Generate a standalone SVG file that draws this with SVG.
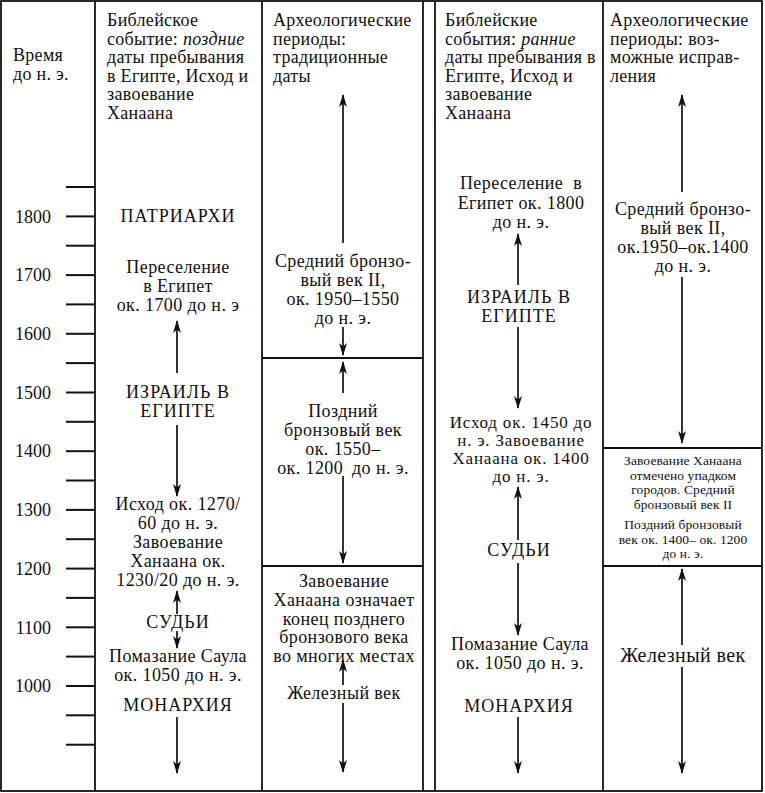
<svg xmlns="http://www.w3.org/2000/svg" width="765" height="793" viewBox="0 0 765 793">
<style>
text{font-family:"Liberation Serif","Times New Roman",serif;fill:#111;}
.h{font-size:18px;letter-spacing:0.3px;}
.b{font-size:18px;letter-spacing:0.4px;text-anchor:middle;}
.n{font-size:17px;letter-spacing:0.8px;text-anchor:middle;}
.c{font-size:18px;letter-spacing:1px;text-anchor:middle;}
.s{font-size:13.5px;letter-spacing:0.1px;text-anchor:middle;}
.y{font-size:18px;text-anchor:end;}
.ln{stroke:#111;stroke-width:1.8;fill:none;}
.tk{stroke:#111;stroke-width:2;}
.ar{stroke:#111;stroke-width:1.7;fill:none;marker-end:url(#ah);}
</style>
<defs>
<marker id="ah" viewBox="0 0 13 8" refX="12" refY="4" markerWidth="13" markerHeight="8" markerUnits="userSpaceOnUse" orient="auto">
<path d="M0,0 L13,4 L0,8 L3.5,4 z" fill="#111"/>
</marker>
</defs>
<rect width="765" height="793" fill="#fff"/>
<g id="frame">
<rect class="ln" x="1" y="1" width="761" height="790" stroke-width="2"/>
<line class="ln" x1="95" y1="1" x2="95" y2="791"/>
<line class="ln" x1="262" y1="1" x2="262" y2="791"/>
<line class="ln" x1="423" y1="1" x2="423" y2="791"/>
<line class="ln" x1="435" y1="1" x2="435" y2="791"/>
<line class="ln" x1="603" y1="1" x2="603" y2="791"/>
<line class="ln" x1="262" y1="358" x2="423" y2="358"/>
<line class="ln" x1="262" y1="566" x2="423" y2="566"/>
<line class="ln" x1="603" y1="448" x2="762" y2="448"/>
<line class="ln" x1="603" y1="566" x2="762" y2="566"/>
</g>
<g id="axis">
<text class="h" x="13" y="61">Время</text>
<text class="h" x="13" y="80">до н. э.</text>
<g class="tk">
<line x1="66" y1="187" x2="95" y2="187"/><line x1="66" y1="216.4" x2="95" y2="216.4"/>
<line x1="66" y1="245.7" x2="95" y2="245.7"/><line x1="66" y1="275.1" x2="95" y2="275.1"/>
<line x1="66" y1="304.4" x2="95" y2="304.4"/><line x1="66" y1="333.8" x2="95" y2="333.8"/>
<line x1="66" y1="363.1" x2="95" y2="363.1"/><line x1="66" y1="392.5" x2="95" y2="392.5"/>
<line x1="66" y1="421.8" x2="95" y2="421.8"/><line x1="66" y1="451.2" x2="95" y2="451.2"/>
<line x1="66" y1="480.5" x2="95" y2="480.5"/><line x1="66" y1="509.9" x2="95" y2="509.9"/>
<line x1="66" y1="539.2" x2="95" y2="539.2"/><line x1="66" y1="568.6" x2="95" y2="568.6"/>
<line x1="66" y1="597.9" x2="95" y2="597.9"/><line x1="66" y1="627.3" x2="95" y2="627.3"/>
<line x1="66" y1="656.6" x2="95" y2="656.6"/><line x1="66" y1="686" x2="95" y2="686"/>
<line x1="66" y1="715.3" x2="95" y2="715.3"/><line x1="66" y1="744.7" x2="95" y2="744.7"/>
</g>
<text class="y" x="51" y="222.5">1800</text>
<text class="y" x="51" y="281">1700</text>
<text class="y" x="51" y="340">1600</text>
<text class="y" x="51" y="398.5">1500</text>
<text class="y" x="51" y="457">1400</text>
<text class="y" x="51" y="516">1300</text>
<text class="y" x="51" y="574.5">1200</text>
<text class="y" x="51" y="633.5">1100</text>
<text class="y" x="51" y="692">1000</text>
</g>
<g id="head1">
<text class="h" x="107" y="26">Библейское</text>
<text class="h" x="107" y="44.6">событие: <tspan font-style="italic">поздние</tspan></text>
<text class="h" x="107" y="63.2">даты пребывания</text>
<text class="h" x="107" y="81.8">в Египте, Исход и</text>
<text class="h" x="107" y="100.4">завоевание</text>
<text class="h" x="107" y="119">Ханаана</text>
</g>
<g id="head2">
<text class="h" x="273" y="26">Археологические</text>
<text class="h" x="273" y="44.6">периоды:</text>
<text class="h" x="273" y="63.2">традиционные</text>
<text class="h" x="273" y="81.8">даты</text>
</g>
<g id="head4">
<text class="h" x="445" y="26">Библейские</text>
<text class="h" x="445" y="44.6">события: <tspan font-style="italic">ранние</tspan></text>
<text class="h" x="445" y="63.2">даты пребывания в</text>
<text class="h" x="445" y="81.8">Египте, Исход и</text>
<text class="h" x="445" y="100.4">завоевание</text>
<text class="h" x="445" y="119">Ханаана</text>
</g>
<g id="head5">
<text class="h" x="610" y="26">Археологические</text>
<text class="h" x="610" y="44.6">периоды: воз-</text>
<text class="h" x="610" y="63.2">можные исправ-</text>
<text class="h" x="610" y="81.8">ления</text>
</g>
<g id="c1-patriarchs"><text class="c" x="178" y="222">ПАТРИАРХИ</text></g>
<g id="c1-migration">
<text class="b" x="178" y="273">Переселение</text>
<text class="b" x="178" y="292">в Египет</text>
<text class="b" x="178" y="311">ок. 1700 до н. э</text>
</g>
<g id="c1-israel">
<text class="c" x="178" y="398">ИЗРАИЛЬ В</text>
<text class="c" x="178" y="417">ЕГИПТЕ</text>
</g>
<g id="c1-exodus">
<text class="b" x="178" y="510">Исход ок. 1270/</text>
<text class="b" x="178" y="529">60 до н. э.</text>
<text class="b" x="178" y="548">Завоевание</text>
<text class="b" x="178" y="567">Ханаана ок.</text>
<text class="b" x="178" y="586">1230/20 до н. э.</text>
</g>
<g id="c1-judges"><text class="c" x="178" y="628">СУДЬИ</text></g>
<g id="c1-saul">
<text class="b" x="178" y="662">Помазание Саула</text>
<text class="b" x="178" y="681">ок. 1050 до н. э.</text>
</g>
<g id="c1-monarchy"><text class="c" x="178" y="711">МОНАРХИЯ</text></g>
<g id="c2-mb">
<text class="b" x="343" y="267">Средний бронзо-</text>
<text class="b" x="343" y="286">вый век II,</text>
<text class="b" x="343" y="305">ок. 1950–1550</text>
<text class="b" x="343" y="324">до н. э.</text>
</g>
<g id="c2-lb">
<text class="b" x="343" y="417">Поздний</text>
<text class="b" x="343" y="436">бронзовый век</text>
<text class="b" x="343" y="455">ок. 1550–</text>
<text class="b" x="343" y="474">ок. 1200 <tspan dx="4">до н. э.</tspan></text>
</g>
<g id="c2-conquest">
<text class="b" x="344" y="587">Завоевание</text>
<text class="b" x="344" y="606">Ханаана означает</text>
<text class="b" x="344" y="624.5">конец позднего</text>
<text class="b" x="344" y="643">бронзового века</text>
<text class="b" x="344" y="661.5">во многих местах</text>
</g>
<g id="c2-iron"><text class="b" x="344" y="699">Железный век</text></g>
<g id="c4-migration">
<text class="b" x="521" y="189">Переселение <tspan dx="5">в</tspan></text>
<text class="b" x="521" y="209">Египет ок. 1800</text>
<text class="b" x="521" y="228">до н. э.</text>
</g>
<g id="c4-israel">
<text class="c" x="519" y="303">ИЗРАИЛЬ В</text>
<text class="c" x="519" y="322">ЕГИПТЕ</text>
</g>
<g id="c4-exodus">
<text class="n" x="521" y="428">Исход ок. 1450 до</text>
<text class="n" x="521" y="446">н. э. Завоевание</text>
<text class="n" x="521" y="464">Ханаана ок. 1400</text>
<text class="n" x="521" y="482">до н. э.</text>
</g>
<g id="c4-judges"><text class="c" x="519" y="556">СУДЬИ</text></g>
<g id="c4-saul">
<text class="b" x="520" y="650">Помазание Саула</text>
<text class="b" x="520" y="669">ок. 1050 до н. э.</text>
</g>
<g id="c4-monarchy"><text class="c" x="519" y="712">МОНАРХИЯ</text></g>
<g id="c5-mb">
<text class="b" x="683" y="215">Средний бронзо-</text>
<text class="b" x="683" y="234">вый век II,</text>
<text class="b" x="683" y="253">ок.1950–ок.1400</text>
<text class="b" x="683" y="272">до н. э.</text>
</g>
<g id="c5-conquest">
<text class="s" x="683" y="465">Завоевание Ханаана</text>
<text class="s" x="683" y="479.5">отмечено упадком</text>
<text class="s" x="683" y="494">городов. Средний</text>
<text class="s" x="683" y="508.5">бронзовый век II</text>
<text class="s" x="683" y="529">Поздний бронзовый</text>
<text class="s" x="683" y="543.5">век ок. 1400– ок. 1200</text>
<text class="s" x="683" y="558">до н. э.</text>
</g>
<g id="c5-iron"><text class="b" x="683" y="662" style="font-size:20px">Железный век</text></g>
<g id="connectors">
<line class="ar" x1="177" y1="373" x2="177" y2="321"/>
<line class="ar" x1="177" y1="425" x2="177" y2="496"/>
<line class="ar" x1="177" y1="614" x2="177" y2="591"/>
<line class="ar" x1="177" y1="631" x2="177" y2="648"/>
<line class="ar" x1="177" y1="717" x2="177" y2="773"/>
<line class="ar" x1="343" y1="243" x2="343" y2="95"/>
<line class="ar" x1="343" y1="327" x2="343" y2="355"/>
<line class="ar" x1="343" y1="393" x2="343" y2="362"/>
<line class="ar" x1="343" y1="476" x2="343" y2="563"/>
<line class="ar" x1="343" y1="685" x2="343" y2="660"/>
<line class="ar" x1="343" y1="703" x2="343" y2="772"/>
<line class="ar" x1="518" y1="285" x2="518" y2="234"/>
<line class="ar" x1="518" y1="327" x2="518" y2="408"/>
<line class="ar" x1="518" y1="540" x2="518" y2="487"/>
<line class="ar" x1="518" y1="563" x2="518" y2="635"/>
<line class="ar" x1="518" y1="717" x2="518" y2="773"/>
<line class="ar" x1="682" y1="192" x2="682" y2="95"/>
<line class="ar" x1="682" y1="277" x2="682" y2="443"/>
<line class="ar" x1="682" y1="645" x2="682" y2="569"/>
<line class="ar" x1="682" y1="667" x2="682" y2="773"/>
</g>
</svg>
